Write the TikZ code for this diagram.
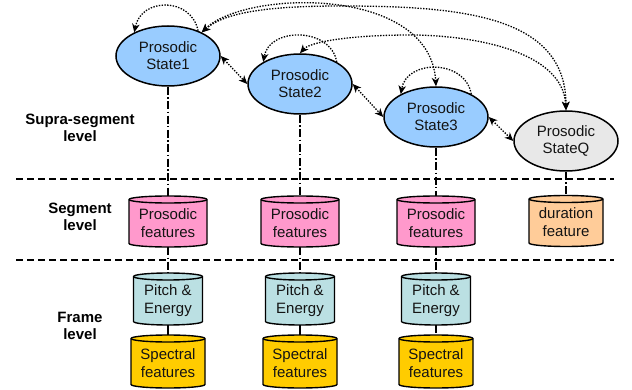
\documentclass[tikz,border=0pt]{standalone}
\usepackage{fontspec}
\setmainfont{Liberation Sans}
\usetikzlibrary{arrows.meta,shapes.geometric}

\definecolor{stateblue}{HTML}{99CCFF}
\definecolor{stategray}{HTML}{E8E8E8}
\definecolor{segpink}{HTML}{FF99CC}
\definecolor{durorange}{HTML}{FFCC99}
\definecolor{pitchteal}{HTML}{BBE0E3}
\definecolor{specgold}{HTML}{FFCC00}
\definecolor{ink}{HTML}{141414}

\newcommand\txtfont{\fontsize{15}{17}\selectfont}
\newcommand\drumfont{\fontsize{15}{18}\selectfont}

\tikzset{
  x=1pt, y=1pt,
  state/.style={ellipse, draw=black, line width=1.5pt, minimum width=104pt,
    minimum height=60pt, inner sep=0pt, align=center, font=\txtfont, text=ink},
  drumline/.style={draw=black, line width=1.4pt},
  drumlabel/.style={rectangle, inner sep=0pt, align=center, font=\drumfont, text=ink},
  lvl/.style={align=center, font=\txtfont\bfseries, text=black},
  sepline/.style={line width=1.5pt, dash pattern=on 7pt off 4pt},
  vlink/.style={line width=1.2pt, dash pattern=on 8pt off 2.5pt on 1.4pt off 2.5pt},
  flink/.style={line width=1.2pt},
  dotlink/.style={line width=1.3pt, dash pattern=on 1.4pt off 1.4pt},
  tip/.tip={Stealth[length=8.5pt,width=7.5pt,inset=2.5pt]},
}

% cylinder: name, x, y (downwards), width, height, fill, text
\newcommand\drum[7]{%
  \pgfmathsetmacro\dw{#4/2}%
  \pgfmathsetmacro\dh{#5/2-3.5}%
  \begin{scope}[shift={(#2,-#3)}]
    \filldraw[drumline, fill=#6] (-\dw,\dh) -- (-\dw,-\dh)
      arc[start angle=180, end angle=360, x radius=\dw pt, y radius=3.5pt]
      -- (\dw,\dh)
      arc[start angle=0, end angle=180, x radius=\dw pt, y radius=3.5pt] -- cycle;
    \draw[drumline] (-\dw,\dh)
      arc[start angle=180, end angle=360, x radius=\dw pt, y radius=3.5pt];
  \end{scope}
  \node[drumlabel, minimum width=#4pt, minimum height=#5pt] (#1) at (#2,-#3) {};
  \node[drumlabel] (#1-text) at ([yshift=-1.5pt]#1.center) {#7};
}

\begin{document}
\begin{tikzpicture}
\useasboundingbox (0,0) rectangle (632,-390);

% level separators
\draw[sepline] (16,-179) -- (614,-179);
\draw[sepline] (16,-260) -- (614,-260);

% level names
\node[lvl] (lsupra) at (80,-128) {Supra-segment\\level};
\node[lvl] (lseg)   at (80,-217) {Segment\\level};
\node[lvl] (lframe) at (80,-326) {Frame\\level};

% prosodic states
\node[state, fill=stateblue] (s1) at (168,-56)  {Prosodic\\State1};
\node[state, fill=stateblue] (s2) at (300,-84)  {Prosodic\\State2};
\node[state, fill=stateblue] (s3) at (436,-117) {Prosodic\\State3};
\node[state, fill=stategray] (sq) at (566,-141) {Prosodic\\StateQ};

% segment level
\drum{f1}{168}{221.5}{78}{51}{segpink}{Prosodic\\features}
\drum{f2}{300}{221.5}{78}{51}{segpink}{Prosodic\\features}
\drum{f3}{436}{221.5}{78}{51}{segpink}{Prosodic\\features}
\drum{fq}{566}{221}{74}{51}{durorange}{duration\\feature}

% frame level
\drum{p1}{168}{299}{69}{52}{pitchteal}{Pitch \&\\Energy}
\drum{p2}{300}{299}{69}{52}{pitchteal}{Pitch \&\\Energy}
\drum{p3}{436}{299}{69}{52}{pitchteal}{Pitch \&\\Energy}
\drum{g1}{168}{361.5}{74}{53}{specgold}{Spectral\\features}
\drum{g2}{300}{361.5}{74}{53}{specgold}{Spectral\\features}
\drum{g3}{436}{361.5}{74}{53}{specgold}{Spectral\\features}

% vertical links
\draw[vlink] (s1.south) -- (f1.north);
\draw[vlink] (s2.south) -- (f2.north);
\draw[vlink] (s3.south) -- (f3.north);
\draw[vlink] (sq.south) -- (fq.north);
\draw[vlink] (f1.south) -- (p1.north);
\draw[vlink] (f2.south) -- (p2.north);
\draw[vlink] (f3.south) -- (p3.north);
\draw[flink] (p1.south) -- (g1.north);
\draw[flink] (p2.south) -- (g2.north);
\draw[vlink] (p3.south) -- (g3.north);

% self transitions
\draw[dotlink, -tip] (s1.40) .. controls +(-7,34) and +(7,35) .. (s1.145);
\draw[dotlink, -tip] (s2.31) .. controls +(-6,35) and +(6,35) .. (s2.149);
\draw[dotlink, -tip] (s3.33) .. controls +(-6,35) and +(6,35) .. (s3.147);

% neighbour transitions
\draw[dotlink, tip-tip] (s1.east) -- (s2.west);
\draw[dotlink, tip-tip] (s2.east) -- (s3.west);
\draw[dotlink, tip-tip] (s3.east) -- (sq.west);

% long-range transitions
\draw[dotlink, tip-tip] (s1.35) .. controls (245,10) and (430,15) .. (s3.north);
\draw[dotlink, tip-tip] (s1.35) .. controls (225,-12) and (270,-6) .. (340,-6)
  .. controls (460,-6) and (566,-15) .. (sq.north);
\draw[dotlink, tip-tip] (s2.north) .. controls (310,-42) and (350,-35) .. (410,-35)
  .. controls (470,-35) and (563,-50) .. (sq.north);
\end{tikzpicture}
\end{document}
